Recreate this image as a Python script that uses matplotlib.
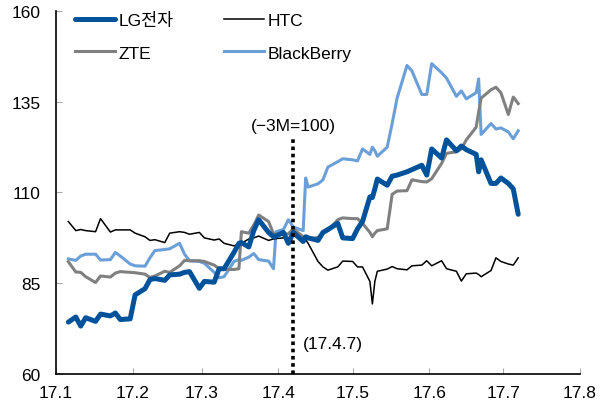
import matplotlib
matplotlib.use("Agg")
import matplotlib.pyplot as plt
import pandas as pd

plt.rcParams["font.family"] = ["Liberation Sans", "Noto Sans CJK KR"]
plt.rcParams["font.size"] = 12.5

# 2017 dates (month-day)
dates = [
    "01-06", "01-09", "01-11", "01-13", "01-17", "01-19", "01-23", "01-25", "01-27", "01-31",
    "02-02", "02-06", "02-08", "02-10", "02-14", "02-16", "02-20", "02-22", "02-24", "02-28",
    "03-02", "03-06", "03-08", "03-10", "03-14", "03-16", "03-17", "03-20", "03-22", "03-24", "03-28", "03-30", "03-31",
    "04-03", "04-05", "04-07", "04-11", "04-12", "04-13", "04-17", "04-19", "04-21", "04-25", "04-27",
    "05-01", "05-03", "05-05", "05-08", "05-09", "05-10", "05-11", "05-15", "05-17", "05-19", "05-23", "05-25", "05-29", "05-31",
    "06-02", "06-06", "06-08", "06-12", "06-14", "06-16", "06-20", "06-21", "06-22", "06-26", "06-28", "06-30",
    "07-03", "07-05", "07-07",
]

lg = [
    74.3, 75.7, 73.2, 75.5, 74.5, 76.5, 76.0, 76.8, 75.0, 75.2,
    81.8, 83.5, 86.0, 86.3, 85.8, 87.3, 87.5, 88.0, 88.2, 83.6,
    85.5, 85.3, 89.0, 89.0, 93.5, 96.0, 96.2, 95.0, 99.5, 102.5, 99.0, 97.8, 98.0,
    99.0, 96.0, 99.0, 96.5, 97.8, 97.5, 96.8, 99.0, 99.8, 101.5, 97.5,
    97.3, 100.0, 102.0, 108.8, 108.6, 111.0, 113.7, 112.0, 114.5, 114.8, 115.7, 116.3, 117.5, 114.8,
    122.0, 119.5, 124.5, 121.5, 122.8, 121.8, 120.5, 115.7, 119.0, 112.5, 112.5, 114.0,
    112.5, 111.0, 104.0,
]

htc = [
    102.0, 99.5, 99.8, 99.5, 99.2, 102.8, 99.1, 99.7, 99.7, 99.7,
    98.8, 97.8, 96.8, 97.0, 96.2, 98.8, 99.2, 99.0, 98.5, 99.0,
    97.5, 96.9, 97.2, 96.0, 95.3, 95.8, 96.0, 97.2, 97.5, 98.0, 96.8, 97.2, 97.3,
    97.5, 97.5, 98.0, 97.5, 97.0, 96.0, 91.0, 89.5, 88.6, 89.5, 91.1,
    91.0, 89.5, 89.5, 85.5, 79.3, 85.5, 88.3, 88.9, 89.6, 89.0, 88.7, 89.8, 90.0, 91.2,
    89.8, 91.2, 89.0, 88.3, 85.6, 87.6, 87.8, 87.4, 86.8, 88.5, 92.0, 91.0,
    90.3, 90.0, 92.0,
]

zte = [
    90.9, 88.1, 88.0, 86.8, 85.2, 87.0, 86.7, 87.8, 88.2, 88.0,
    87.9, 87.5, 86.6, 87.0, 88.3, 88.0, 89.8, 91.3, 91.2, 91.2,
    91.0, 90.0, 89.0, 88.8, 88.8, 89.0, 99.2, 98.8, 101.0, 103.8, 102.0, 98.6, 98.6,
    98.6, 98.6, 100.0, 97.8, 97.5, 97.2, 97.6, 98.8, 99.5, 102.5, 103.0,
    102.8, 102.8, 101.5, 99.0, 97.8, 98.8, 99.5, 100.0, 109.5, 110.4, 110.5, 113.5, 113.0, 112.9,
    113.8, 118.0, 120.8, 121.2, 122.0, 124.5, 128.0, 132.2, 136.0, 138.3, 139.0, 137.5,
    131.5, 136.3, 134.5,
]

blackberry = [
    91.7, 91.3, 92.5, 93.0, 93.0, 91.4, 91.5, 93.5, 92.5, 90.3,
    89.8, 89.7, 92.0, 94.0, 94.3, 94.5, 96.0, 93.0, 91.2, 91.0,
    90.5, 88.0, 86.5, 86.8, 91.0, 91.5, 91.3, 92.2, 93.2, 91.5, 91.1, 89.0, 99.2,
    99.8, 102.5, 100.5, 99.5, 114.0, 111.5, 112.4, 113.5, 117.0, 118.5, 119.3,
    119.0, 118.7, 122.0, 120.5, 122.5, 121.5, 120.0, 122.5, 129.0, 136.0, 145.0, 143.5, 137.0, 137.0,
    145.5, 143.0, 141.5, 136.5, 138.0, 135.8, 137.5, 141.3, 126.0, 129.0, 127.5, 127.8,
    126.7, 124.8, 127.0,
]

x_ticks = ["2017-01-01", "2017-02-01", "2017-03-01", "2017-04-01", "2017-05-01",
           "2017-06-01", "2017-07-01", "2017-08-01"]
x_tick_labels = ["17.1", "17.2", "17.3", "17.4", "17.5", "17.6", "17.7", "17.8"]
y_ticks = [60, 85, 110, 135, 160]
base_date = "2017-04-07"

x = pd.to_datetime(["2017-" + d for d in dates])

fig = plt.figure(figsize=(6.07, 4.10), dpi=100)
ax = fig.add_axes([0.0923, 0.0854, 0.8632, 0.8853])

h_lg, = ax.plot(x, lg, color="#00529b", lw=3.6, solid_capstyle="round", zorder=5)
h_htc, = ax.plot(x, htc, color="black", lw=1.1, zorder=3)
h_zte, = ax.plot(x, zte, color="#808080", lw=2.2, zorder=4)
h_bb, = ax.plot(x, blackberry, color="#6a9fd8", lw=2.2, zorder=2)

# base date marker
bd = pd.Timestamp(base_date)
ax.plot([bd, bd], [60, 125], color="black", lw=2.6, linestyle=(0, (1, 1)), zorder=6)
ax.text(bd, 128.5, "(\u22123M=100)", ha="center", va="center")
ax.text(bd + pd.Timedelta(days=4), 68.5, "(17.4.7)", ha="left", va="center")

ax.set_xlim(pd.Timestamp("2017-01-01"), pd.Timestamp("2017-08-01"))
ax.set_ylim(60, 160)
ax.set_xticks(pd.to_datetime(x_ticks))
ax.set_xticklabels(x_tick_labels)
ax.set_yticks(y_ticks)

for s in ["top", "right"]:
    ax.spines[s].set_visible(False)
ax.spines["left"].set_linewidth(1.2)
ax.spines["bottom"].set_linewidth(1.2)
ax.tick_params(axis="both", direction="in", length=4, color="#aaaaaa", width=0.8)
ax.tick_params(axis="y", pad=11)
ax.tick_params(axis="x", pad=8)

ax.legend([h_lg, h_zte, h_htc, h_bb], ["LG전자", "ZTE", "HTC", "BlackBerry"],
          ncol=2, frameon=False, loc="upper left",
          bbox_to_anchor=(75 / 607, 1 - 13 / 410), bbox_transform=fig.transFigure,
          borderpad=0, borderaxespad=0, handlelength=2.3, handletextpad=0.2,
          labelspacing=1.0, columnspacing=2.9)

fig.savefig("out.png", dpi=100)
